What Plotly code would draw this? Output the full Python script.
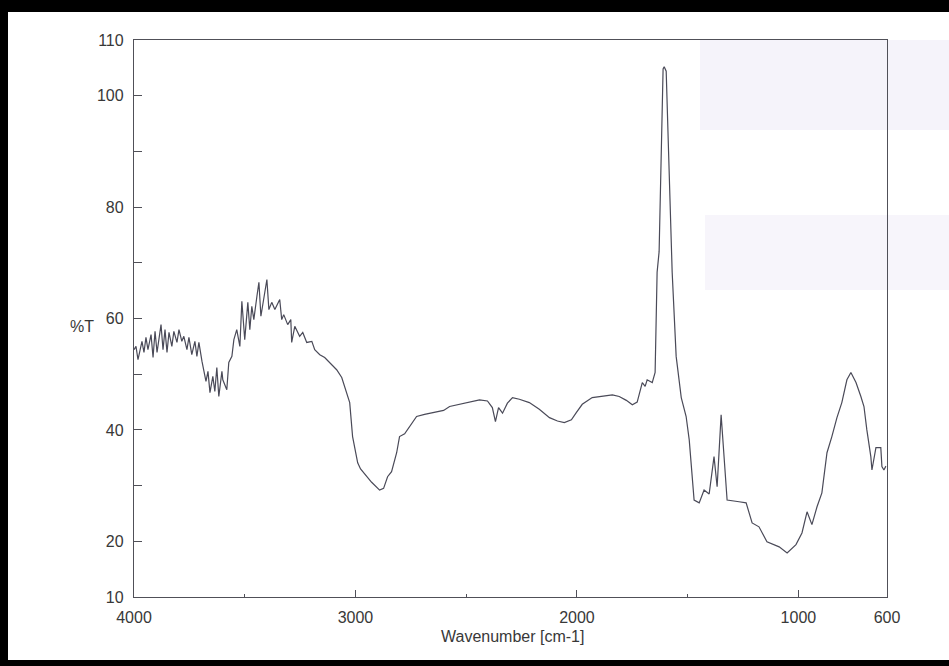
import plotly.graph_objects as go

# Wavenumber (cm-1) and transmittance (%T)
wavenumber = [
    4000, 3991, 3982, 3964, 3955, 3946, 3937, 3923, 3914, 3905, 3896, 3878, 3869, 3860, 3851,
    3842, 3829, 3820, 3806, 3797, 3784, 3775, 3761, 3752, 3739, 3725, 3716, 3707, 3693, 3684,
    3675, 3666, 3657, 3644, 3635, 3626, 3617, 3603, 3599, 3581, 3572, 3558, 3549, 3536, 3522,
    3513, 3500, 3486, 3477, 3468, 3459, 3445, 3436, 3427, 3418, 3400, 3391, 3378, 3364, 3342,
    3333, 3324, 3306, 3292, 3288, 3274, 3252, 3238, 3220, 3197, 3184, 3161, 3139, 3107, 3085,
    3062, 3040, 3026, 3013, 2990, 2977, 2950, 2927, 2891, 2873, 2855, 2837, 2814, 2801, 2778,
    2756, 2724, 2688, 2643, 2602, 2575, 2508, 2440, 2404, 2382, 2368, 2354, 2336, 2314, 2291,
    2260, 2215, 2170, 2124, 2088, 2057, 2025, 2003, 1976, 1931, 1886, 1840, 1809, 1777, 1750,
    1728, 1705, 1692, 1683, 1660, 1647, 1642, 1638, 1629, 1620, 1611, 1606, 1597, 1588, 1579,
    1570, 1552, 1529, 1507, 1493, 1471, 1448, 1426, 1403, 1381, 1367, 1349, 1335, 1322, 1268,
    1236, 1209, 1178, 1142, 1087, 1051, 1011, 984, 961, 939, 916, 894, 871, 849, 826,
    804, 781, 763, 740, 718, 704, 691, 673, 668, 650, 637, 628, 623, 614, 605,
]
transmittance = [
    54.4, 55.0, 52.6, 55.9, 53.9, 56.6, 54.4, 57.1, 53.0, 57.7, 53.9, 58.9, 54.4, 58.0, 53.9,
    57.5, 55.0, 57.7, 55.7, 58.0, 55.9, 56.8, 54.4, 56.6, 53.5, 55.9, 53.2, 55.7, 52.3, 50.5,
    48.7, 50.5, 46.7, 49.6, 46.9, 51.2, 46.0, 50.5, 49.0, 47.2, 52.1, 53.2, 56.2, 58.0, 55.0,
    63.1, 56.2, 62.9, 58.0, 62.2, 59.8, 64.0, 66.5, 60.4, 62.9, 67.0, 61.6, 62.9, 61.6, 63.4,
    59.8, 60.7, 58.9, 59.8, 55.7, 58.6, 56.8, 57.5, 55.7, 55.9, 54.4, 53.5, 53.0, 51.7, 50.8,
    49.4, 46.7, 44.9, 38.8, 34.1, 33.0, 31.6, 30.6, 29.2, 29.5, 31.6, 32.5, 35.9, 38.8, 39.3,
    40.6, 42.4, 42.8, 43.2, 43.5, 44.2, 44.8, 45.4, 45.2, 44.0, 41.5, 44.0, 43.0, 44.8, 45.8,
    45.5, 44.9, 43.7, 42.2, 41.6, 41.3, 41.8, 43.1, 44.6, 45.8, 46.1, 46.3, 46.0, 45.3, 44.5,
    45.0, 48.5, 47.8, 49.0, 48.5, 50.3, 60.0, 68.3, 72.0, 86.3, 104.8, 105.2, 104.4, 92.2, 80.0,
    68.3, 53.2, 45.8, 42.4, 38.2, 27.4, 26.9, 29.2, 28.5, 35.2, 29.8, 42.7, 34.6, 27.4, 27.1,
    26.9, 23.3, 22.6, 19.9, 19.0, 17.9, 19.4, 21.5, 25.3, 23.0, 26.2, 28.7, 35.9, 38.8, 42.2,
    44.9, 49.0, 50.3, 48.5, 46.0, 44.2, 40.0, 35.2, 32.8, 36.8, 36.8, 36.8, 33.4, 32.8, 33.5,
]

x_tickvals = [4000, 3000, 2000, 1000, 600]
x_ticktext = ["4000", "3000", "2000", "1000", "600"]
y_tickvals = [10, 20, 30, 40, 50, 60, 70, 80, 90, 100, 110]
y_ticktext = ["10", "20", "", "40", "", "60", "", "80", "", "100", "110"]

W, H = 949, 666
L, R, T, B = 134, 62, 40, 69
pw, ph = W - L - R, H - T - B

def px(x):
    return (x - L) / pw

def py(y):
    return (H - B - y) / ph

ink = "#505058"
txt = "#383838"
font = dict(family="Liberation Sans, Arial, sans-serif", size=16, color=txt)

fig = go.Figure()
fig.add_trace(go.Scatter(
    x=wavenumber, y=transmittance, mode="lines",
    line=dict(color="#4a4a58", width=1.2), hoverinfo="x+y", showlegend=False,
))

shapes = [
    # faint scanner tint on the right side
    dict(type="rect", xref="paper", yref="paper", x0=px(700), x1=px(949), y0=py(130), y1=py(40),
         fillcolor="rgba(190,180,225,0.16)", line=dict(width=0), layer="below"),
    dict(type="rect", xref="paper", yref="paper", x0=px(705), x1=px(949), y0=py(290), y1=py(215),
         fillcolor="rgba(190,180,225,0.13)", line=dict(width=0), layer="below"),
    # black scan border
    dict(type="rect", xref="paper", yref="paper", x0=-0.5, x1=1.5, y0=py(12), y1=1.3,
         fillcolor="black", line=dict(width=0), layer="above"),
    dict(type="rect", xref="paper", yref="paper", x0=-0.5, x1=px(8), y0=-0.5, y1=1.3,
         fillcolor="black", line=dict(width=0), layer="above"),
    dict(type="rect", xref="paper", yref="paper", x0=-0.5, x1=1.5, y0=-0.5, y1=py(660),
         fillcolor="black", line=dict(width=0), layer="above"),
]

fig.update_layout(
    width=W, height=H,
    margin=dict(l=L, r=R, t=T, b=B, pad=0),
    paper_bgcolor="white", plot_bgcolor="rgba(0,0,0,0)",
    font=font,
    shapes=shapes,
    xaxis=dict(
        range=[4000, 600], tickvals=x_tickvals, ticktext=x_ticktext,
        ticks="inside", ticklen=7, tickwidth=1.2, tickcolor=ink,
        minor=dict(tick0=500, dtick=1000, ticks="inside", ticklen=3, tickwidth=1.2, tickcolor=ink),
        showline=True, linecolor=ink, linewidth=1.3, mirror=True,
        showgrid=False, zeroline=False, tickfont=font, ticklabelstandoff=6,
    ),
    yaxis=dict(
        range=[10, 110], tickvals=y_tickvals, ticktext=y_ticktext,
        ticks="inside", ticklen=8, tickwidth=1.2, tickcolor=ink,
        showline=True, linecolor=ink, linewidth=1.3, mirror=True,
        showgrid=False, zeroline=False, tickfont=font, ticklabelstandoff=6,
    ),
    annotations=[
        dict(text="%T", xref="paper", yref="paper", x=px(82), y=py(326),
             xanchor="center", yanchor="middle", showarrow=False, font=font),
        dict(text="Wavenumber [cm-1]", xref="paper", yref="paper", x=px(512), y=py(636),
             xanchor="center", yanchor="middle", showarrow=False, font=font),
    ],
)

fig.write_html("out.html")
